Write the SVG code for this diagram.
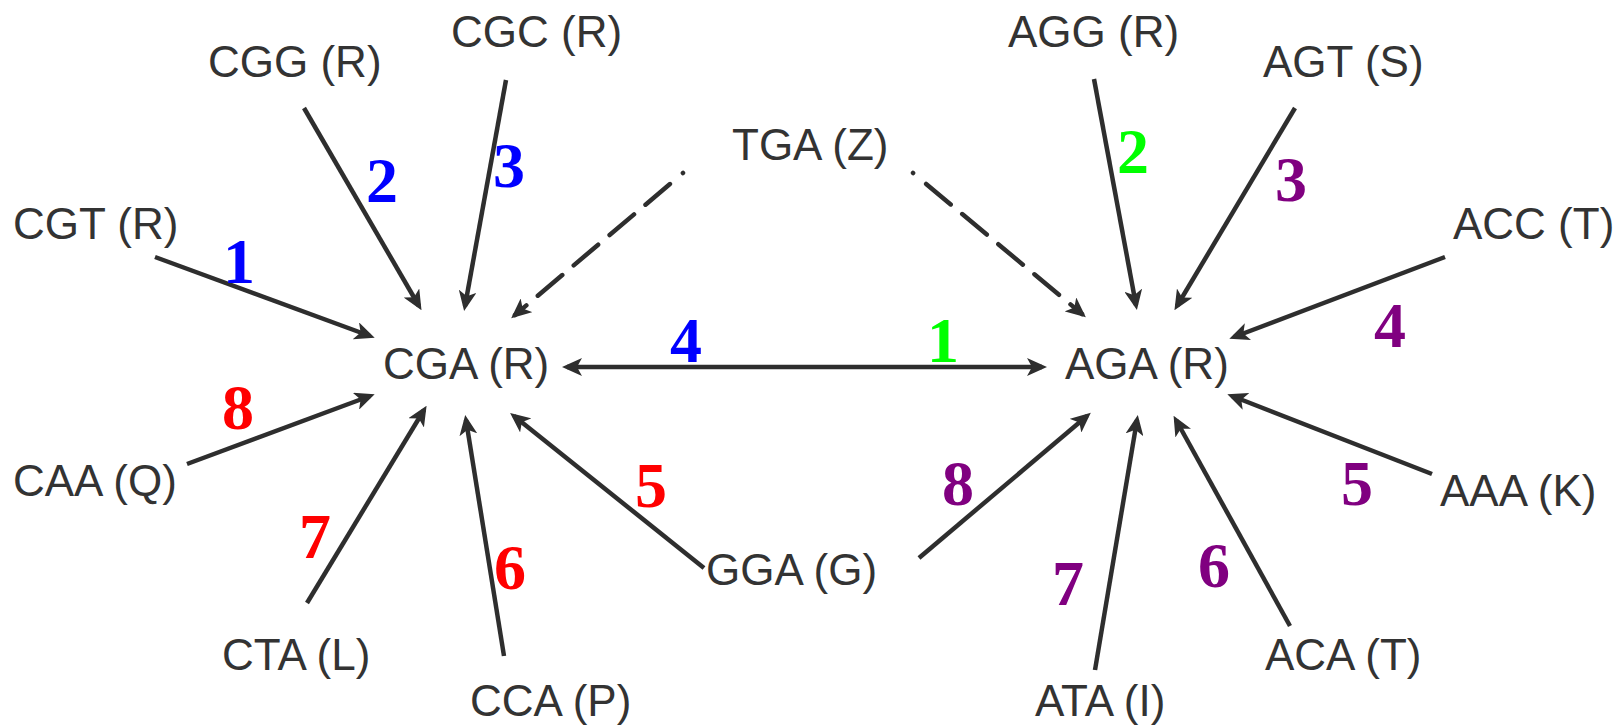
<svg xmlns="http://www.w3.org/2000/svg" width="1621" height="725" viewBox="0 0 1621 725">
<style>
.lbl{font-family:"Liberation Sans",Arial,sans-serif;font-size:44px;fill:#333}
.num{font-family:"Liberation Serif","Times New Roman",serif;font-size:64px;font-weight:bold;text-anchor:middle}
.b{fill:#0000ff}.g{fill:#00ff00}.p{fill:#800080}.r{fill:#ff0000}
.e{stroke:#2e2e2e;stroke-width:4.5;fill:none;marker-end:url(#ah)}
.d{stroke-dasharray:0.1 17 32 15 32 15 32 15 32 15 300;stroke-linecap:round}
</style>
<defs>
<marker id="ah" viewBox="0 0 20 18" refX="15" refY="9" markerWidth="20" markerHeight="18" markerUnits="userSpaceOnUse" orient="auto-start-reverse">
<path d="M0,0 L20,9 L0,18 L5,9 Z" fill="#2e2e2e"/>
</marker>
</defs>
<rect width="1621" height="725" fill="#fff"/>
<g id="connectors">
<line class="e" x1="155" y1="257" x2="370" y2="336"/>
<line class="e" x1="304" y1="108" x2="419" y2="306"/>
<line class="e" x1="506" y1="80" x2="465" y2="306"/>
<line class="e d" x1="683" y1="173" x2="515" y2="315"/>
<line class="e" x1="187" y1="464" x2="370" y2="396"/>
<line class="e" x1="307" y1="603" x2="424" y2="410"/>
<line class="e" x1="504" y1="656" x2="466" y2="420"/>
<line class="e" x1="704" y1="568" x2="514" y2="416"/>
<line class="e" x1="567" y1="367" x2="1042" y2="367" marker-start="url(#ah)"/>
<line class="e" x1="1094" y1="79" x2="1136" y2="305"/>
<line class="e" x1="1295" y1="108" x2="1177" y2="306"/>
<line class="e" x1="1445" y1="257" x2="1234" y2="337"/>
<line class="e d" x1="913" y1="173" x2="1082" y2="314"/>
<line class="e" x1="1432" y1="474" x2="1232" y2="396"/>
<line class="e" x1="1290" y1="626" x2="1176" y2="420"/>
<line class="e" x1="1095" y1="670" x2="1137" y2="420"/>
<line class="e" x1="919" y1="558" x2="1087" y2="416"/>
</g>
<g id="edge-labels">
<text class="num b" x="239" y="283">1</text>
<text class="num b" x="382" y="202">2</text>
<text class="num b" x="509" y="187">3</text>
<text class="num b" x="686" y="362">4</text>
<text class="num g" x="943" y="362">1</text>
<text class="num g" x="1133" y="173">2</text>
<text class="num p" x="1291" y="201">3</text>
<text class="num p" x="1390" y="347">4</text>
<text class="num p" x="1357" y="505">5</text>
<text class="num p" x="1214" y="587">6</text>
<text class="num p" x="1068" y="605">7</text>
<text class="num p" x="958" y="505">8</text>
<text class="num r" x="238" y="429">8</text>
<text class="num r" x="315" y="558">7</text>
<text class="num r" x="510" y="589">6</text>
<text class="num r" x="651" y="507">5</text>
</g>
<g id="CGG"><text class="lbl" x="208" y="77">CGG (R)</text></g>
<g id="CGC"><text class="lbl" x="451" y="47">CGC (R)</text></g>
<g id="CGT"><text class="lbl" x="13" y="239">CGT (R)</text></g>
<g id="TGA"><text class="lbl" x="732" y="160">TGA (Z)</text></g>
<g id="AGG"><text class="lbl" x="1008" y="47">AGG (R)</text></g>
<g id="AGT"><text class="lbl" x="1263" y="77">AGT (S)</text></g>
<g id="ACC"><text class="lbl" x="1453" y="239">ACC (T)</text></g>
<g id="CGA"><text class="lbl" x="383" y="379">CGA (R)</text></g>
<g id="AGA"><text class="lbl" x="1065" y="379">AGA (R)</text></g>
<g id="CAA"><text class="lbl" x="13" y="496">CAA (Q)</text></g>
<g id="AAA"><text class="lbl" x="1440" y="506">AAA (K)</text></g>
<g id="GGA"><text class="lbl" x="706" y="585">GGA (G)</text></g>
<g id="CTA"><text class="lbl" x="222" y="670">CTA (L)</text></g>
<g id="CCA"><text class="lbl" x="470" y="716">CCA (P)</text></g>
<g id="ATA"><text class="lbl" x="1035" y="716">ATA (I)</text></g>
<g id="ACA"><text class="lbl" x="1265" y="670">ACA (T)</text></g>
</svg>
